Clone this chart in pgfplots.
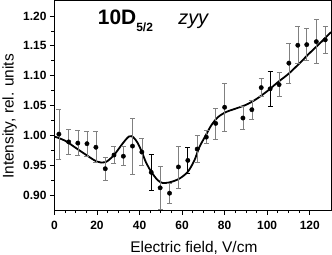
\documentclass[border=0pt]{standalone}
\usepackage{fontspec}
\setmainfont{Liberation Sans}
\usepackage{pgfplots}
\usepackage{pgfplotstable}
\pgfplotsset{compat=1.18}
\pgfplotstableread{
x y e
2.1 1.002 0.042
6.7 0.989 0.021
11.0 0.987 0.021
15.3 0.986 0.021
19.5 0.980 0.026
23.9 0.944 0.019
28.0 0.967 0.014
32.4 0.965 0.016
36.7 0.982 0.047
41.1 0.972 0.023
49.7 0.912 0.036
54.1 0.903 0.017
58.3 0.947 0.035
67.1 0.977 0.023
71.4 0.997 0.011
75.8 1.020 0.026
80.0 1.047 0.041
88.6 1.029 0.019
92.8 1.043 0.016
97.2 1.080 0.015
105.6 1.085 0.020
110.2 1.121 0.034
114.4 1.151 0.031
118.6 1.152 0.027
123.1 1.157 0.037
127.3 1.160 0.023
}\graydata
\pgfplotstableread{
x y e
45.5 0.938 0.030
62.7 0.958 0.022
101.4 1.078 0.029
}\blackdata
\pgfplotstableread{
x y
0 0.998
5 0.991
10 0.979
15 0.967
20 0.956
24 0.955
28 0.967
32 0.986
35 0.998
37 0.997
39 0.988
41 0.973
43 0.955
45.5 0.939
48.5 0.925
51 0.920
55 0.922
59 0.928
62.7 0.939
65.8 0.958
68.1 0.980
71.3 1.001
73.6 1.016
76.7 1.030
80.6 1.039
84.5 1.044
90 1.051
95 1.061
100 1.074
105 1.089
110 1.103
115 1.120
120 1.138
125 1.155
130 1.173
}\fitdata
\begin{document}
\begin{tikzpicture}
\begin{axis}[
  scale only axis, width=277bp, height=210bp,
  xmin=-0.2, xmax=130, ymin=0.874, ymax=1.226,
  axis line style={line width=0.8bp},
  xtick={0,20,40,60,80,100,120},
  ytick={0.90,0.95,1.00,1.05,1.10,1.15,1.20},
  minor x tick num=3, minor y tick num=1,
  tick align=outside, xtick pos=bottom, ytick pos=left,
  major tick length=4bp, minor tick length=2.5bp,
  tick style={black, line width=0.7bp},
  /pgf/number format/assume math mode=true,
  ticklabel style={font=\fontsize{12}{14}\selectfont\bfseries},
  xticklabel style={yshift=-3bp},
  yticklabel style={/pgf/number format/.cd, fixed, fixed zerofill, precision=2},
  xlabel={Electric field, V/cm},
  ylabel={Intensity, rel. units},
  label style={font=\fontsize{15.5}{18}\selectfont},
  xlabel style={at={(axis description cs:0.505,-0.1986)}, anchor=base},
  ylabel style={at={(axis description cs:-0.1606,0.448)}, anchor=center},
]
\addplot[black, line width=1.8bp, smooth, no markers] table[x=x,y=y] {\fitdata};
\addplot[only marks, mark=*, mark size=2.2bp, black,
  error bars/.cd, y dir=both, y explicit,
  error bar style={gray, line width=0.6bp},
  error mark options={rotate=90, mark size=2.5bp, gray, line width=0.6bp}]
  table[x=x,y=y,y error=e] {\graydata};
\addplot[only marks, mark=*, mark size=2.2bp, black,
  error bars/.cd, y dir=both, y explicit,
  error bar style={black, line width=0.7bp},
  error mark options={rotate=90, mark size=2.5bp, black, line width=0.7bp}]
  table[x=x,y=y,y error=e] {\blackdata};
\node[anchor=base west, font=\fontsize{21}{24}\selectfont\bfseries, inner sep=0pt] at (rel axis cs:0.158,0.886) {10D\raisebox{-7bp}{\fontsize{12}{14}\selectfont 5/2}};
\node[anchor=base west, font=\fontsize{20}{24}\selectfont\itshape, inner sep=0pt] at (rel axis cs:0.448,0.886) {zyy};
\end{axis}
\pgfresetboundingbox
\path (-54bp,-44.5bp) rectangle (278bp,210.5bp);
\end{tikzpicture}
\end{document}
